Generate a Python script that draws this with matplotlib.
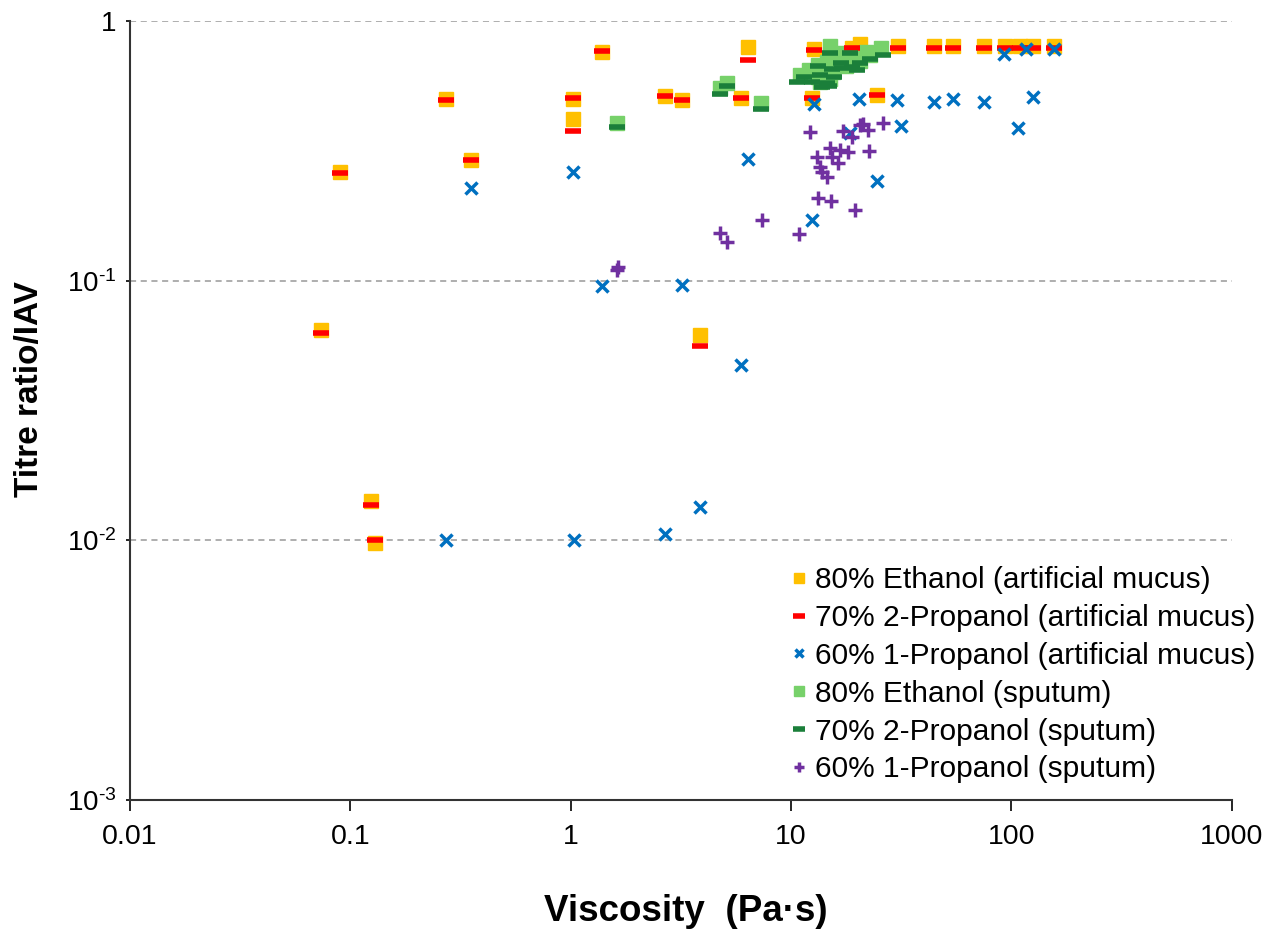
import matplotlib
matplotlib.use('Agg')
import matplotlib.pyplot as plt
from matplotlib.ticker import FixedLocator, NullLocator

plt.rcParams['font.family'] = ['Liberation Sans', 'DejaVu Sans']
plt.rcParams['mathtext.default'] = 'regular'

# 80% Ethanol (artificial mucus)
eth_am_x = [0.0736, 0.0897, 0.124, 0.129, 0.271, 0.352, 1.02, 1.02, 1.386, 2.68, 3.19, 3.86, 5.92, 6.37,
            12.4, 12.7, 18.9, 20.5, 24.5, 30.5, 44.5, 54.2, 75, 93.3, 109, 125, 157]
eth_am_y = [0.0646, 0.262, 0.0142, 0.0098, 0.50, 0.292, 0.50, 0.42, 0.76, 0.514, 0.496, 0.0618, 0.505, 0.794,
            0.505, 0.78, 0.79, 0.815, 0.52, 0.80, 0.80, 0.80, 0.80, 0.80, 0.80, 0.80, 0.80]

# 70% 2-Propanol (artificial mucus)
prop2_am_x = [0.0736, 0.0897, 0.124, 0.129, 0.271, 0.352, 1.02, 1.02, 1.386, 2.68, 3.19, 3.86, 5.92, 6.37,
              12.4, 12.7, 18.9, 24.5, 30.5, 44.5, 54.2, 75, 93.3, 109, 125, 157]
prop2_am_y = [0.063, 0.26, 0.0137, 0.0100, 0.496, 0.292, 0.505, 0.377, 0.766, 0.514, 0.496, 0.056, 0.505, 0.708,
              0.505, 0.773, 0.79, 0.52, 0.79, 0.79, 0.79, 0.79, 0.79, 0.79, 0.79, 0.79]

# 60% 1-Propanol (artificial mucus)
prop1_am_x = [0.271, 0.352, 1.02, 1.03, 1.386, 2.68, 3.19, 3.86, 5.92, 6.37, 12.4, 12.7, 18.5, 20.3, 24.5,
              30.2, 31.5, 44.5, 54.2, 75, 92.3, 107, 116, 125, 157]
prop1_am_y = [0.0100, 0.227, 0.262, 0.0100, 0.0954, 0.0106, 0.0963, 0.0134, 0.0474, 0.294, 0.171, 0.479,
              0.371, 0.50, 0.242, 0.496, 0.394, 0.488, 0.50, 0.488, 0.746, 0.387, 0.78, 0.51, 0.78]

# 80% Ethanol (sputum)
eth_sp_x = [1.62, 4.75, 5.11, 7.29, 15.0, 25.6, 21.9, 17.4, 16.3, 18.9, 20.5, 14.6, 13.3, 17.8, 12.1,
            14.0, 15.5, 11.0, 13.3, 15.0, 13.6, 22.8]
eth_sp_y = [0.405, 0.552, 0.577, 0.483, 0.80, 0.79, 0.76, 0.75, 0.72, 0.72, 0.70, 0.695, 0.68, 0.67, 0.65,
            0.65, 0.636, 0.62, 0.61, 0.60, 0.58, 0.74]

# 70% 2-Propanol (sputum)
prop2_sp_x = [1.62, 4.75, 5.11, 7.29, 15.0, 18.5, 26.1, 22.8, 16.8, 20.5, 13.2, 19.0, 17.1, 15.3, 19.9,
              13.5, 15.7, 11.5, 10.7, 12.4, 14.5, 13.8, 14.9]
prop2_sp_y = [0.391, 0.523, 0.562, 0.458, 0.75, 0.75, 0.74, 0.715, 0.69, 0.69, 0.67, 0.665, 0.66, 0.655,
              0.648, 0.62, 0.61, 0.61, 0.58, 0.58, 0.577, 0.557, 0.56]

# 60% 1-Propanol (sputum)
prop1_sp_x = [1.62, 1.64, 4.75, 5.11, 7.37, 10.85, 12.2, 13.3, 15.2, 13.1, 13.6, 13.8, 14.6, 15.0, 15.3,
              16.3, 16.7, 18.2, 17.3, 19.0, 20.5, 21.2, 22.3, 22.6, 26.1, 19.5]
prop1_sp_y = [0.110, 0.113, 0.153, 0.141, 0.171, 0.151, 0.374, 0.208, 0.203, 0.30, 0.274, 0.262, 0.251,
              0.324, 0.30, 0.284, 0.319, 0.313, 0.377, 0.357, 0.398, 0.40, 0.38, 0.316, 0.405, 0.187]

labels = ['80% Ethanol (artificial mucus)', '70% 2-Propanol (artificial mucus)',
          '60% 1-Propanol (artificial mucus)', '80% Ethanol (sputum)',
          '70% 2-Propanol (sputum)', '60% 1-Propanol (sputum)']

x_ticks = [0.01, 0.1, 1, 10, 100, 1000]
x_ticklabels = ['0.01', '0.1', '1', '10', '100', '1000']
y_ticks = [0.001, 0.01, 0.1, 1]
y_ticklabels = ['10$^{\u2010' + '3}$', '10$^{\u2010' + '2}$', '10$^{\u2010' + '1}$', '1']

fig = plt.figure(figsize=(12.75, 9.35), dpi=100)
ax = fig.add_axes([0.102, 0.1444, 0.864, 0.8331])

ax.set_xscale('log')
ax.set_yscale('log')
ax.set_xlim(0.01, 1000)
ax.set_ylim(0.001, 1)

# dashed grid at the decades
for gy in [0.01, 0.1, 1]:
    ax.axhline(gy, color='#999999', lw=1.1, ls=(0, (4, 3)), zorder=1)

ax.plot(eth_am_x, eth_am_y, 's', color='#FFC000', ms=10, mec='#FFC000', label=labels[0], zorder=3)
ax.plot(prop2_am_x, prop2_am_y, '_', color='#FF0000', ms=11, mew=4, label=labels[1], zorder=4)
ax.plot(prop1_am_x, prop1_am_y, 'x', color='#0070C0', ms=8, mew=2.5, label=labels[2], zorder=5)
ax.plot(eth_sp_x, eth_sp_y, 's', color='#77D16A', ms=10, mec='#77D16A', label=labels[3], zorder=3)
ax.plot(prop2_sp_x, prop2_sp_y, '_', color='#1B7F3A', ms=11, mew=4, label=labels[4], zorder=4)
ax.plot(prop1_sp_x, prop1_sp_y, '+', color='#7030A0', ms=10, mew=2.5, label=labels[5], zorder=5)

ax.xaxis.set_major_locator(FixedLocator(x_ticks))
ax.xaxis.set_minor_locator(NullLocator())
ax.set_xticklabels(x_ticklabels)
ax.yaxis.set_major_locator(FixedLocator(y_ticks))
ax.yaxis.set_minor_locator(NullLocator())
ax.set_yticklabels(y_ticklabels)

ax.tick_params(axis='x', direction='out', length=8, width=1.2, labelsize=20.5, pad=9)
ax.tick_params(axis='y', direction='out', length=3, width=1.2, labelsize=20, pad=7)

for s in ['top', 'right']:
    ax.spines[s].set_visible(False)
for s in ['left', 'bottom']:
    ax.spines[s].set_linewidth(1.5)
    ax.spines[s].set_color('#333333')

ax.set_xlabel('Viscosity  (Pa·s)', fontsize=26.5, fontweight='bold')
ax.xaxis.set_label_coords(0.5045, -0.121)
ax.set_ylabel('Titre ratio/IAV', fontsize=24, fontweight='bold')
ax.yaxis.set_label_coords(-0.077, 0.5276)

leg = ax.legend(loc='upper left', bbox_to_anchor=(0.6198, 0.3945), bbox_transform=fig.transFigure,
                frameon=False, fontsize=21.5, markerscale=0.75, handlelength=0.6,
                handletextpad=0.22, labelspacing=0.33, borderpad=0, borderaxespad=0)

fig.savefig('out.png', dpi=100)
